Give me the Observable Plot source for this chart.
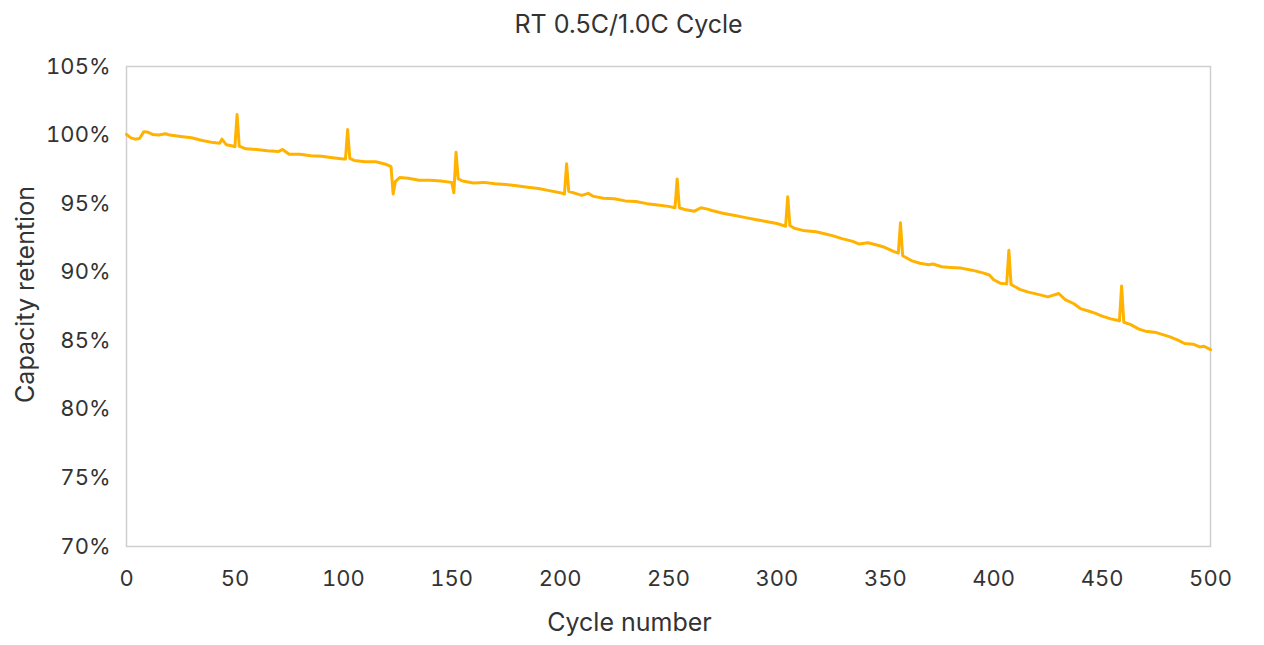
<!DOCTYPE html>
<html>
<head>
<meta charset="utf-8">
<script src="https://cdn.jsdelivr.net/npm/d3@7"></script>
<script src="https://cdn.jsdelivr.net/npm/@observablehq/plot@0.6"></script>
<style>
  html, body { margin: 0; padding: 0; background: #fff; }
  #chart svg { display: block; }
</style>
</head>
<body>
<div id="chart"></div>
<script>
const title = "RT 0.5C/1.0C Cycle";
const xLabel = "Cycle number";
const yLabel = "Capacity retention";
const xTicks = [0, 50, 100, 150, 200, 250, 300, 350, 400, 450, 500];
const yTicks = [70, 75, 80, 85, 90, 95, 100, 105];

const cycles = [
  0, 2, 4, 6, 8, 10, 12, 15, 18, 20, 25, 30, 35, 40, 43, 44, 46, 49, 50, 51, 52, 55, 60, 65, 70, 72, 75, 80, 85, 90, 95,
  100, 101, 102, 103, 105, 110, 115, 120, 122, 123, 124, 126, 130, 135, 140, 145, 150, 151, 152, 153, 155, 160, 165, 170, 175, 180, 185, 190, 195,
  200, 202, 203, 204, 207, 210, 213, 215, 220, 225, 230, 235, 240, 245, 250, 253, 254, 255, 258, 262, 265, 268, 270, 275, 280, 285, 290, 295,
  300, 304, 305, 306, 308, 312, 318, 322, 326, 330, 335, 338, 342, 347, 350, 354, 356, 357, 358, 362, 366, 370, 372, 376, 380, 385, 390, 395, 398,
  400, 403, 406, 407, 408, 412, 416, 420, 425, 430, 433, 437, 440, 444, 447, 450, 454, 457, 458, 459, 460, 463, 467, 470, 475, 481, 485, 488, 492, 495, 497, 500
];
const retention = [
  100.05, 99.8, 99.7, 99.75, 100.25, 100.2, 100.05, 100.0, 100.1, 100.0, 99.9, 99.8, 99.6, 99.45, 99.4, 99.7, 99.3, 99.2, 99.15, 101.5, 99.2, 99.0, 98.95, 98.85, 98.8, 98.95, 98.6, 98.6, 98.5, 98.45, 98.35,
  98.25, 98.25, 100.4, 98.3, 98.15, 98.05, 98.05, 97.85, 97.7, 95.7, 96.6, 96.9, 96.85, 96.7, 96.7, 96.65, 96.55, 95.8, 98.75, 96.8, 96.65, 96.5, 96.55, 96.45, 96.4, 96.3, 96.2, 96.1, 95.95,
  95.8, 95.7, 97.9, 95.9, 95.75, 95.6, 95.75, 95.55, 95.4, 95.35, 95.2, 95.15, 95.0, 94.9, 94.8, 94.7, 96.8, 94.7, 94.55, 94.45, 94.7, 94.6, 94.5, 94.3, 94.15, 94.0, 93.85, 93.7,
  93.55, 93.35, 95.5, 93.4, 93.2, 93.05, 92.95, 92.8, 92.65, 92.45, 92.25, 92.05, 92.15, 91.95, 91.8, 91.5, 91.4, 93.6, 91.2, 90.85, 90.65, 90.55, 90.6, 90.4, 90.35, 90.3, 90.15, 89.95, 89.8,
  89.45, 89.2, 89.15, 91.6, 89.1, 88.75, 88.55, 88.4, 88.2, 88.45, 88.0, 87.7, 87.35, 87.15, 87.0, 86.8, 86.6, 86.5, 86.45, 89.0, 86.35, 86.2, 85.85, 85.7, 85.6, 85.3, 85.05, 84.8, 84.75, 84.55, 84.6, 84.35
];

const data = cycles.map((c, i) => ({cycle: c, value: retention[i]}));
const font = "Inter, 'Noto Sans', sans-serif";
const textColor = "#333333";

const chart = Plot.plot({
  width: 1264,
  height: 645,
  marginLeft: 126,
  marginRight: 54,
  marginTop: 66,
  marginBottom: 99,
  style: {fontFamily: font, fontSize: "21px", color: textColor, background: "#fff"},
  x: {domain: [0, 500], label: null},
  y: {domain: [70, 105], label: null},
  marks: [
    Plot.frame({stroke: "#cfcfcf", strokeWidth: 1.5}),
    Plot.axisY({ticks: yTicks, tickSize: 0, tickPadding: 16, tickFormat: d => d + "%", label: null, fontSize: 22, fill: textColor}),
    Plot.axisX({ticks: xTicks, tickSize: 0, tickPadding: 24, tickFormat: d => String(d), label: null, fontSize: 22, fill: textColor}),
    Plot.line(data, {x: "cycle", y: "value", stroke: "#FFB300", strokeWidth: 3, curve: "linear"}),
    Plot.text([title], {frameAnchor: "top", lineAnchor: "middle", dx: -40, dy: -42, text: d => d, fontSize: 25, fill: textColor}),
    Plot.text([xLabel], {frameAnchor: "bottom", lineAnchor: "middle", dx: -39, dy: 76, text: d => d, fontSize: 25, fill: textColor}),
    Plot.text([yLabel], {frameAnchor: "left", dx: -101, dy: -12, rotate: -90, textAnchor: "middle", text: d => d, fontSize: 25, fill: textColor})
  ]
});
document.getElementById("chart").appendChild(chart);
</script>
</body>
</html>
